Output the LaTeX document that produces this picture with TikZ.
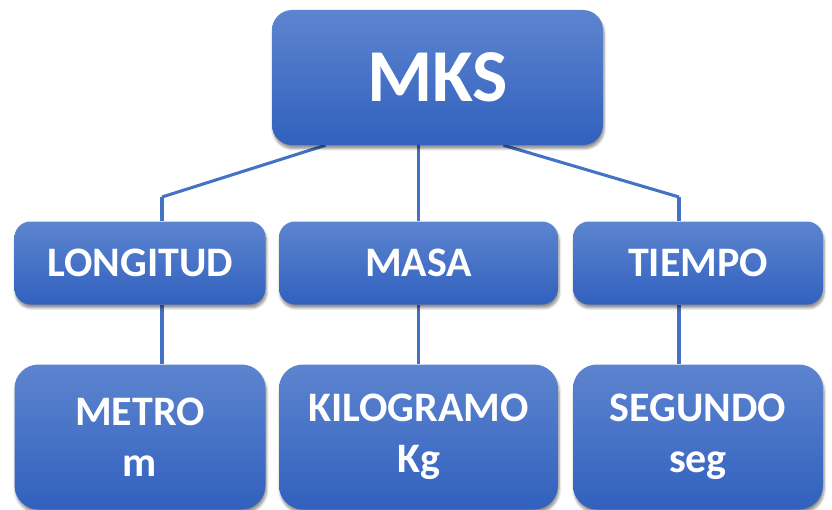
\documentclass[tikz,border=0pt]{standalone}
\usepackage{fontspec}
\setmainfont{Carlito}
\usetikzlibrary{shadows.blur,calc,backgrounds}

\definecolor{boxtop}{RGB}{93,132,207}
\definecolor{boxbot}{RGB}{49,97,190}
\definecolor{linkblue}{RGB}{68,114,196}

\begin{document}
\begin{tikzpicture}[x=0.75pt,y=-0.75pt,
        box/.style={rounded corners=12pt,top color=boxtop,bottom color=boxbot,draw=none,
            text=white,font=\bfseries,align=center,inner sep=0pt,
            blur shadow={shadow xshift=0.8pt,shadow yshift=-2.6pt,shadow blur steps=6,shadow opacity=45}},
        unit/.style={box,minimum height=145*0.75pt,rounded corners=18pt,
            font=\fontsize{31.5}{38.5}\selectfont\bfseries},
        quantity/.style={box,minimum height=83*0.75pt,font=\fontsize{31.5}{36}\selectfont\bfseries},
        link/.style={draw=linkblue,line width=2.3pt}]
                \useasboundingbox (0,0) rectangle (832,510);
                \node[box,minimum width=331*0.75pt,minimum height=135*0.75pt,rounded corners=15pt,
                    font=\fontsize{56}{60}\selectfont\bfseries](mks)at(437.5, 77.5){MKS};
                \node[quantity,minimum width=251*0.75pt](lon)at(140, 263){LONGITUD};
                \node[quantity,minimum width=279*0.75pt](mas)at(418.5, 263){MASA};
                \node[quantity,minimum width=250*0.75pt](tie)at(698, 263){TIEMPO};
                \node[unit,minimum width=251*0.75pt](met)at(140, 437){METRO\\m};
                \node[unit,minimum width=279*0.75pt](kil)at(418.5, 437){KILOGRAMO\\Kg};
                \node[unit,minimum width=250*0.75pt](seg)at(698, 437){SEGUNDO\\seg};
                \coordinate(kl)at(162, 197);
                \coordinate(kr)at(679, 197);
                % connectors behind the boxes
                \begin{scope}[on background layer]
                \path[link]($(mks.south)+(-112,0)$) edge (kl)
                (kl) edge (lon.north -| kl)
                ($(mks.south)+(66,0)$) edge (kr)
                (kr) edge (tie.north -| kr)
                (mas.north) edge (mas.north |- mks.south)
                (lon.south -| kl) edge (met.north -| kl)
                (mas.south) edge (kil.north)
                (tie.south -| kr) edge (seg.north -| kr);
                \end{scope}
            \end{tikzpicture}
\end{document}
